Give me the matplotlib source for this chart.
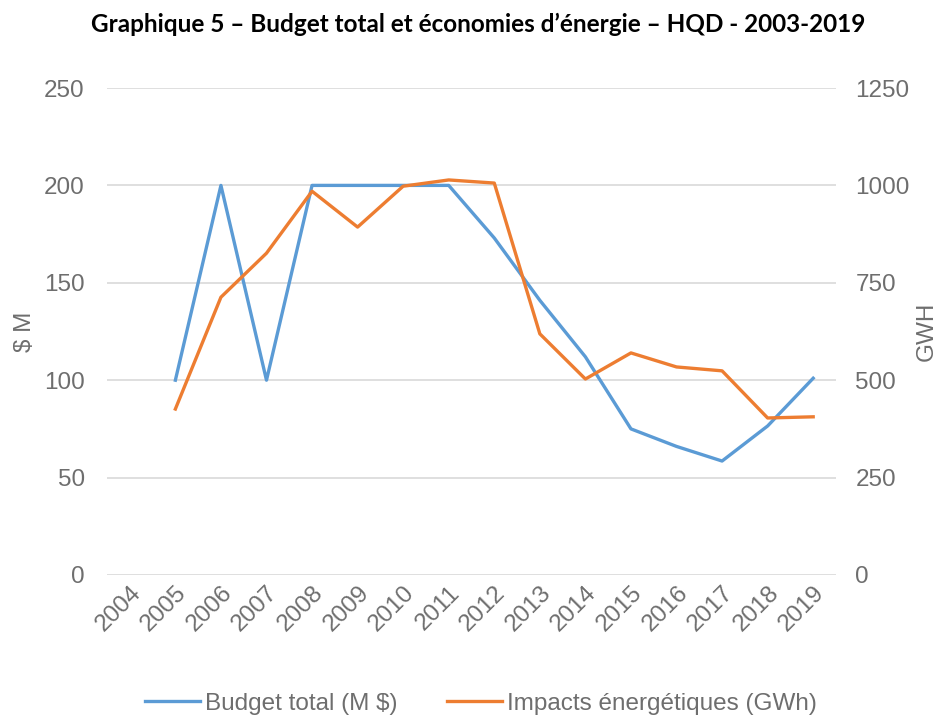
import matplotlib
matplotlib.use("Agg")
import matplotlib.pyplot as plt

years = [str(y) for y in range(2004, 2020)]
budget = [None, 100, 200, 100, 200, 200, 200, 200, 173, 141, 112, 75, 66, 58.5, 76.5, 101]
impacts = [None, 426, 713, 826, 985, 893, 998, 1014, 1006, 619, 503, 570, 534, 524, 403, 406]

blue = "#5B9BD5"
orange = "#ED7D31"
grey = "#6E6E6E"
fs = 17.5

plt.rcParams["font.family"] = ["Liberation Sans", "DejaVu Sans"]

fig = plt.figure(figsize=(9.43, 7.19), dpi=100)
ax = fig.add_axes([0.1135, 0.2003, 0.773, 0.6773])
ax2 = ax.twinx()

x = list(range(len(years)))
bx = [i for i, v in zip(x, budget) if v is not None]
bv = [v for v in budget if v is not None]
ix = [i for i, v in zip(x, impacts) if v is not None]
iv = [v for v in impacts if v is not None]

l1, = ax.plot(bx, bv, color=blue, lw=2.4, solid_joinstyle="round", label="Budget total (M $)", zorder=3)
l2, = ax2.plot(ix, iv, color=orange, lw=2.4, solid_joinstyle="round", label="Impacts énergétiques (GWh)", zorder=3)

ax.set_xlim(-0.5, len(years) - 0.5)
ax.set_ylim(0, 250)
ax2.set_ylim(0, 1250)
ax.set_yticks(range(0, 251, 50))
ax2.set_yticks(range(0, 1251, 250))
ax.set_xticks(x)
ax.set_xticklabels(years, rotation=45, ha="right", rotation_mode="anchor")

ax.grid(axis="y", color="#D9D9D9", lw=1.2)
ax.set_axisbelow(True)
for a in (ax, ax2):
    for s in a.spines.values():
        s.set_visible(False)
    a.tick_params(length=0, labelsize=fs, labelcolor=grey)
ax.tick_params(axis="y", pad=16)
ax2.tick_params(axis="y", pad=14)
ax.tick_params(axis="x", pad=5)

ax.set_ylabel("$ M", fontsize=fs, color=grey, labelpad=6)
ax2.set_ylabel("GWH", fontsize=fs, color=grey, labelpad=4)

fig.text(0.5074, 0.982, "Graphique 5 – Budget total et économies d’énergie – HQD - 2003-2019",
         ha="center", va="top", fontsize=17.5, fontweight="bold",
         family=["Lato", "DejaVu Sans"], color="black")

fig.legend(handles=[l1, l2], loc="center", bbox_to_anchor=(0.51, 0.021),
           ncol=2, frameon=False, fontsize=fs, labelcolor=grey,
           handlelength=2.26, columnspacing=2.05, handletextpad=0.2)

fig.savefig("out.png", dpi=100)
